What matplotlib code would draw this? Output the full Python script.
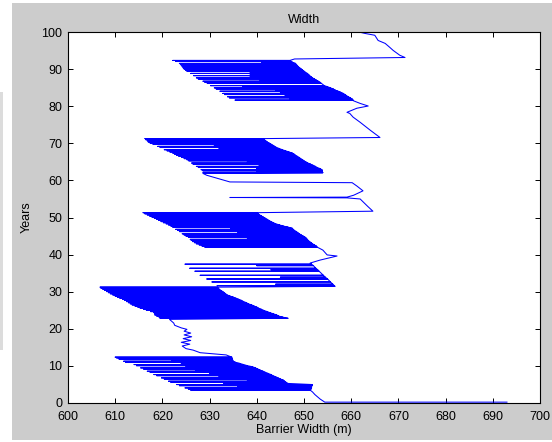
import matplotlib
matplotlib.use('Agg')
import matplotlib.pyplot as plt
from matplotlib.patches import Rectangle

# barrier width (m) against model year.
# "trend" pieces are plain line vertices; the dense blocks are storm dips:
# at each year the width drops from `right` to `left` and comes back.

seg0_year = [0.15, 0.15, 1.0, 2.2, 2.9]
seg0_width = [693.0, 654.4, 653.4, 652.3, 651.8]

blkf_year = [3.4, 3.7, 4.0, 4.3, 4.6, 4.9, 5.2, 5.5, 5.8, 6.1, 6.4, 6.7, 7.0, 7.3, 7.6,
             7.9, 8.2, 8.5, 8.8, 9.1, 9.4, 9.7, 10.0, 10.3, 10.6, 10.9, 11.2, 11.5,
             11.8, 12.1, 12.3]
blkf_right = [651.3, 651.5, 651.6, 651.6, 651.7, 651.8, 646.6, 646.2, 645.9, 645.6,
              645.0, 644.5, 644.0, 643.4, 643.0, 642.4, 641.8, 641.3, 640.7, 640.2,
              639.7, 639.1, 638.0, 637.2, 636.4, 635.5, 635.0, 634.9, 634.8, 634.7, 634.7]
blkf_left = [626.0, 625.5, 624.8, 636.0, 623.6, 623.0, 633.0, 621.8, 621.3, 638.0,
             620.4, 619.8, 632.0, 618.8, 618.2, 630.0, 617.4, 616.8, 627.0, 616.0,
             615.4, 625.0, 614.5, 614.0, 624.0, 612.2, 611.8, 622.0, 610.8, 610.3, 610.0]

seg1_year = [12.9, 13.5, 14.2, 14.6, 15.3, 15.8, 16.3, 16.8, 17.3, 17.8, 18.3, 18.8,
             19.3, 19.8, 20.2, 20.9, 21.5, 22.5]
seg1_width = [633.5, 628.0, 626.5, 625.0, 624.2, 625.8, 624.0, 626.0, 624.4, 626.2,
              624.6, 626.0, 624.6, 625.2, 624.0, 622.6, 622.4, 621.5]

blke_year = [22.8, 23.1, 23.4, 23.7, 24.0, 24.3, 24.6, 24.9, 25.2, 25.5, 25.8, 26.1,
             26.4, 26.7, 27.0, 27.3, 27.6, 27.9, 28.2, 28.5, 28.8, 29.1, 29.4, 29.7,
             30.0, 30.3, 30.6, 30.9, 31.2]
blke_right = [646.6, 645.5, 644.6, 644.2, 643.5, 642.8, 642.2, 641.5, 641.0, 640.4,
              640.0, 639.4, 638.9, 638.2, 637.8, 637.2, 636.8, 636.2, 635.6, 635.0,
              634.3, 633.7, 633.4, 633.1, 632.8, 632.4, 632.1, 631.8, 631.6]
blke_left = [619.5, 619.3, 618.8, 618.4, 618.4, 618.2, 617.5, 616.6, 616.0, 615.3,
             614.8, 614.2, 613.6, 613.2, 612.8, 612.4, 612.0, 611.6, 611.0, 610.5,
             610.0, 609.5, 609.0, 608.6, 608.2, 607.8, 607.4, 607.0, 606.8]

seg2_year = [31.4]
seg2_width = [656.6]

blkd_year = [31.6, 32.0, 32.6, 33.4, 33.9, 34.4, 35.5, 35.9, 36.3, 37.0, 37.4]
blkd_right = [656.4, 656.1, 655.6, 655.0, 654.5, 654.1, 653.2, 652.9, 652.5, 652.0, 651.6]
blkd_left = [631.6, 644.0, 630.5, 629.4, 645.0, 628.0, 626.9, 643.0, 625.8, 640.0, 624.8]

seg3_year = [37.7, 38.5, 39.6, 39.9, 41.2]
seg3_width = [651.3, 653.4, 657.0, 654.9, 654.0]

blkc_year = [42.0, 42.3, 42.6, 42.9, 43.2, 43.5, 43.8, 44.1, 44.4, 44.7, 45.0, 45.3,
             45.6, 45.9, 46.2, 46.5, 46.8, 47.1, 47.4, 47.7, 48.0, 48.3, 48.6, 48.9,
             49.2, 49.5, 49.8, 50.1, 50.4, 50.7, 51.0, 51.3]
blkc_right = [652.8, 652.6, 652.2, 651.8, 651.5, 651.2, 650.9, 650.7, 650.5, 650.2,
              649.8, 649.4, 649.0, 648.7, 648.4, 648.0, 647.7, 647.5, 646.6, 645.6,
              644.8, 644.0, 643.5, 643.0, 642.6, 642.2, 641.8, 641.4, 641.0, 640.6,
              640.3, 640.0]
blkc_left = [629.0, 628.4, 627.8, 627.2, 626.8, 626.4, 626.1, 625.9, 638.0, 625.5,
             625.0, 624.6, 624.2, 636.0, 623.6, 623.2, 622.8, 634.5, 622.2, 621.8,
             621.3, 620.8, 620.2, 619.7, 619.2, 618.8, 618.3, 617.8, 617.3, 616.8,
             616.3, 615.9]

seg4_year = [51.7, 53.0, 54.5, 55.0, 55.3, 55.4, 55.5, 56.0, 57.2, 58.5, 59.4, 59.6,
             60.6, 61.4, 61.9]
seg4_width = [664.6, 663.5, 662.3, 661.9, 659.1, 634.3, 659.1, 660.5, 662.5, 661.2,
              660.2, 634.3, 631.6, 629.4, 628.6]

blkb_year = [62.1, 62.3, 62.6, 62.9, 63.2, 63.5, 63.8, 64.1, 64.4, 64.7, 65.0, 65.3,
             65.6, 65.9, 66.2, 66.5, 66.8, 67.1, 67.4, 67.7, 68.0, 68.3, 68.6, 68.9,
             69.2, 69.5, 69.8, 70.1, 70.4, 70.7, 71.0, 71.3]
blkb_right = [654.0, 653.9, 653.9, 653.8, 653.4, 652.8, 652.4, 651.9, 651.4, 650.8,
              650.4, 650.0, 649.7, 649.3, 649.0, 648.6, 648.2, 647.9, 647.5, 646.8,
              646.1, 645.4, 644.8, 644.2, 643.8, 643.4, 643.0, 642.6, 642.2, 641.9,
              641.6, 641.3]
blkb_left = [628.6, 640.0, 628.6, 628.2, 640.0, 627.6, 627.2, 640.5, 626.5, 626.2,
             638.0, 625.6, 625.2, 624.6, 624.1, 623.5, 623.0, 622.6, 622.2, 621.6,
             621.0, 620.4, 632.0, 619.5, 619.0, 631.0, 618.0, 617.4, 617.0, 616.8,
             616.5, 616.3]

seg5_year = [71.6, 73.6, 75.7, 77.1, 78.1, 78.4, 79.5, 80.1, 80.8, 81.5]
seg5_width = [666.1, 664.0, 661.9, 660.4, 659.7, 659.1, 661.2, 663.6, 661.9, 660.5]

blka_year = [81.7, 82.0, 82.3, 82.6, 82.9, 83.2, 83.5, 83.8, 84.1, 84.4, 84.7, 85.0,
             85.3, 85.6, 86.2, 86.5, 86.8, 87.1, 87.4, 87.7, 88.0, 88.3, 88.6, 88.9,
             89.2, 89.5, 89.8, 90.1, 90.4, 90.7, 91.0, 91.3, 91.6, 91.9, 92.2, 92.4]
blka_right = [660.4, 660.2, 659.8, 659.4, 659.0, 658.7, 658.3, 657.8, 657.2, 656.6,
              656.2, 655.6, 655.0, 654.3, 653.7, 653.4, 653.0, 652.6, 652.2, 651.8,
              651.5, 651.2, 651.0, 650.7, 650.3, 650.0, 649.7, 649.4, 649.1, 648.8,
              648.6, 648.4, 648.2, 647.6, 647.2, 647.0]
blka_left = [635.4, 647.0, 634.2, 633.8, 646.0, 633.2, 632.8, 645.0, 632.2, 644.0,
             631.4, 631.0, 637.0, 630.2, 629.5, 629.0, 628.6, 640.7, 627.6, 627.2,
             638.6, 626.6, 638.6, 626.0, 638.6, 625.2, 624.9, 624.6, 624.4, 624.2,
             624.0, 623.8, 623.6, 641.0, 622.8, 622.2]

seg6_year = [92.8, 93.2, 93.8, 95.1, 95.9, 97.0, 97.8, 99.2, 99.7, 100.0]
seg6_width = [648.0, 671.4, 670.3, 668.9, 668.2, 667.2, 665.7, 665.0, 662.9, 661.9]

plt.rcParams['font.family'] = ['Liberation Sans', 'DejaVu Sans']
plt.rcParams['font.size'] = 9

xs = []
ys = []


def trend(yr, w):
    xs.extend(w)
    ys.extend(yr)


def dips(yr, right, left):
    for y, r, l in zip(yr, right, left):
        xs.extend([r, l, r])
        ys.extend([y, y, y])


trend(seg0_year, seg0_width)
dips(blkf_year, blkf_right, blkf_left)
trend(seg1_year, seg1_width)
dips(blke_year, blke_right, blke_left)
trend(seg2_year, seg2_width)
dips(blkd_year, blkd_right, blkd_left)
trend(seg3_year, seg3_width)
dips(blkc_year, blkc_right, blkc_left)
trend(seg4_year, seg4_width)
dips(blkb_year, blkb_right, blkb_left)
trend(seg5_year, seg5_width)
dips(blka_year, blka_right, blka_left)
trend(seg6_year, seg6_width)

fig = plt.figure(figsize=(5.52, 4.42), dpi=100, facecolor='white')
# matlab grey window, slightly cropped screenshot
fig.patches.append(Rectangle((12 / 552, 2 / 442), 540 / 552, 437 / 442,
                             transform=fig.transFigure, facecolor='#cccccc',
                             edgecolor='none', zorder=-2))
fig.patches.append(Rectangle((0, 92 / 442), 3 / 552, 258 / 442,
                             transform=fig.transFigure, facecolor='#dcdcdc',
                             edgecolor='none', zorder=-2))

ax = fig.add_axes([68 / 552, 1 - 402.7 / 442, 472 / 552, 370.4 / 442])
ax.plot(xs, ys, color='#0000ff', lw=0.75)

ax.set_xlim(600, 700)
ax.set_ylim(0, 100)
ax.set_xticks(range(600, 701, 10))
ax.set_yticks(range(0, 101, 10))
ax.tick_params(direction='in', top=True, right=True, length=3.5, width=0.7,
               pad=4, labelsize=9)
ax.tick_params(axis='x', pad=6)
for s in ax.spines.values():
    s.set_linewidth(0.8)

ax.set_title('Width', fontsize=9, pad=7)
ax.set_xlabel('Barrier Width (m)', fontsize=9, labelpad=1)
ax.set_ylabel('Years', fontsize=9, labelpad=6)

fig.savefig('out.png', dpi=100, facecolor=fig.get_facecolor())
